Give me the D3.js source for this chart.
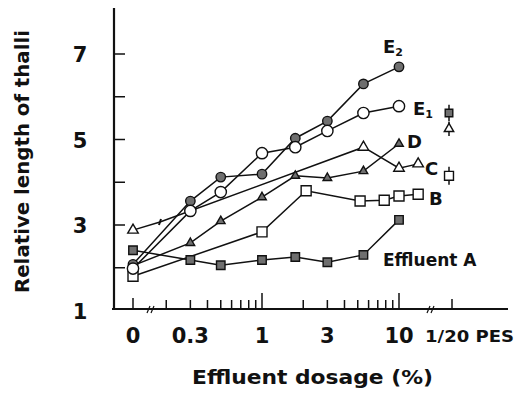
<!DOCTYPE html>
<html>
<head>
<meta charset="utf-8">
<script src="https://cdn.jsdelivr.net/npm/d3@7"></script>
<style>
  body { margin: 0; background: #fff; }
  text { font-family: "DejaVu Sans", "Liberation Sans", Arial, sans-serif; font-weight: bold; fill: #111; }
</style>
</head>
<body>
<div id="chart"></div>
<script>
// Dosages (%) shared by most effluents; 0 is drawn left of the log break.
const dosesMain = [0, 0.3, 0.5, 1, 1.75, 3, 5.5, 10];
const effluentA = [2.41, 2.18, 2.06, 2.18, 2.25, 2.13, 2.30, 3.12];
const effluentD = [2.05, 2.58, 3.09, 3.65, 4.15, 4.10, 4.26, 4.90];
const effluentE1 = [1.98, 3.33, 3.77, 4.68, 4.82, 5.20, 5.62, 5.78];
const effluentE2 = [2.08, 3.56, 4.12, 4.19, 5.03, 5.43, 6.30, 6.70];

const dosesB = [0, 1, 2.1, 5.2, 7.8, 10, 13.8];
const effluentB = [1.80, 2.84, 3.80, 3.56, 3.58, 3.68, 3.72];

const dosesC = [0, 0.18, 5.5, 10, 13.8];
const effluentC = [2.88, 3.07, 4.82, 4.33, 4.43];

// 1/20 PES controls
const pesMarkers = ["squareFilled", "triangleOpen", "squareOpen"];
const pesMeans = [5.62, 5.25, 4.15];
const pesErrors = [0.19, 0.17, 0.21];

const yTicks = [2, 3, 4, 5, 6, 7];
const yLabels = [1, 3, 5, 7];
const xMinorTicks = [0.2, 0.3, 0.4, 0.5, 0.6, 0.7, 0.8, 0.9, 2, 3, 4, 5, 6, 7, 8, 9];
const xMajorTicks = [1, 10];
const xLabels = [[0, "0"], [0.3, "0.3"], [1, "1"], [3, "3"], [10, "10"]];

const Width = 524, Height = 401;
const AxisX = 114, AxisY = 309;
const ZeroX = 133, PesX = 452;

const svg = d3.select("#chart").append("svg")
    .attr("width", Width)
    .attr("height", Height);

const y = d3.scaleLinear().domain([1, 7]).range([310.5, 54]);
const xLog = d3.scaleLog().domain([1, 10]).range([262, 399]);
const xPos = d => d === 0 ? ZeroX : xLog(d);

// Axes
svg.append("line")
    .attr("x1", AxisX).attr("x2", AxisX)
    .attr("y1", 8).attr("y2", AxisY + 1)
    .attr("stroke", "#111").attr("stroke-width", 2.2);
svg.append("line")
    .attr("x1", 112).attr("x2", 508)
    .attr("y1", AxisY).attr("y2", AxisY)
    .attr("stroke", "#111").attr("stroke-width", 2);

svg.selectAll(".ytick")
    .data(yTicks)
    .join("line")
        .attr("x1", AxisX).attr("x2", AxisX + 11)
        .attr("y1", d => y(d)).attr("y2", d => y(d))
        .attr("stroke", "#111").attr("stroke-width", 1.5);

svg.selectAll(".ylabel")
    .data(yLabels)
    .join("text")
        .attr("x", 80)
        .attr("y", d => y(d) + 8)
        .attr("text-anchor", "middle")
        .style("font-size", "21px")
        .text(d => d);

const tick = (x, h) => svg.append("line")
    .attr("x1", x).attr("x2", x)
    .attr("y1", AxisY).attr("y2", AxisY - h)
    .attr("stroke", "#111").attr("stroke-width", 1.5);

xMinorTicks.forEach(d => tick(xLog(d), 9));
xMajorTicks.forEach(d => tick(xLog(d), 16));
tick(ZeroX, 11);
tick(PesX, 10);

// axis breaks
[151, 431].forEach(bx => {
    svg.append("path")
        .attr("d", `M${bx - 4},${AxisY + 4} L${bx - 1},${AxisY - 3} M${bx},${AxisY + 4} L${bx + 3},${AxisY - 3}`)
        .attr("stroke", "#111").attr("stroke-width", 1.2).attr("fill", "none");
});

svg.selectAll(".xlabel")
    .data(xLabels)
    .join("text")
        .attr("x", d => xPos(d[0]))
        .attr("y", 343)
        .attr("text-anchor", "middle")
        .style("font-size", "21px")
        .text(d => d[1]);

svg.append("text")
    .attr("x", 425).attr("y", 342)
    .attr("textLength", 89).attr("lengthAdjust", "spacingAndGlyphs")
    .style("font-size", "15px")
    .text("1/20 PES");

svg.append("text")
    .attr("x", 192).attr("y", 384)
    .attr("textLength", 241).attr("lengthAdjust", "spacingAndGlyphs")
    .style("font-size", "19px")
    .text("Effluent dosage (%)");

svg.append("text")
    .attr("transform", "translate(29,293) rotate(-90)")
    .attr("textLength", 263).attr("lengthAdjust", "spacingAndGlyphs")
    .style("font-size", "19px")
    .text("Relative length of thalli");

// Series
const line = d3.line().x(d => xPos(d[0])).y(d => y(d[1]));
const zipped = (xs, ys) => xs.map((d, i) => [d, ys[i]]);

const markerStyle = {
    circleFilled:   { type: d3.symbolCircle, size: 70, fill: "#6f6f6f" },
    circleOpen:     { type: d3.symbolCircle, size: 100, fill: "#fff" },
    squareFilled:   { type: d3.symbolSquare, size: 72, fill: "#6f6f6f" },
    squareOpen:     { type: d3.symbolSquare, size: 100, fill: "#fff" },
    triangleFilled: { type: d3.symbolTriangle, size: 32, fill: "#6f6f6f" },
    triangleOpen:   { type: d3.symbolTriangle, size: 48, fill: "#fff" },
};

const series = [
    { doses: dosesC, values: effluentC, marker: "triangleOpen" },
    { doses: dosesB, values: effluentB, marker: "squareOpen" },
    { doses: dosesMain, values: effluentA, marker: "squareFilled" },
    { doses: dosesMain, values: effluentD, marker: "triangleFilled" },
    { doses: dosesMain, values: effluentE2, marker: "circleFilled" },
    { doses: dosesMain, values: effluentE1, marker: "circleOpen" },
];

series.forEach(s => {
    svg.append("path")
        .datum(zipped(s.doses, s.values))
        .attr("d", line)
        .attr("fill", "none")
        .attr("stroke", "#111")
        .attr("stroke-width", 1.5);
});

series.forEach(s => {
    const m = markerStyle[s.marker];
    const pts = zipped(s.doses, s.values);
    svg.selectAll(null)
        .data(pts.filter(d => d[0] !== 0.18))
        .join("path")
            .attr("transform", d => `translate(${xPos(d[0])},${y(d[1])})`)
            .attr("d", d3.symbol().type(m.type).size(m.size))
            .attr("fill", m.fill)
            .attr("stroke", "#111")
            .attr("stroke-width", 1.4);
    // tiny dash markers at 0.18 %
    svg.selectAll(null)
        .data(pts.filter(d => d[0] === 0.18))
        .join("line")
            .attr("x1", d => xPos(d[0]) - 1).attr("x2", d => xPos(d[0]) + 1)
            .attr("y1", d => y(d[1]) + 3).attr("y2", d => y(d[1]) - 3)
            .attr("stroke", "#111").attr("stroke-width", 2);
});

// PES controls with error bars
pesMeans.forEach((v, i) => {
    svg.append("line")
        .attr("x1", PesX - 3).attr("x2", PesX - 3)
        .attr("y1", y(v - pesErrors[i])).attr("y2", y(v + pesErrors[i]))
        .attr("stroke", "#111").attr("stroke-width", 1.5);
    const m = markerStyle[pesMarkers[i]];
    svg.append("path")
        .attr("transform", `translate(${PesX - 3},${y(v)})`)
        .attr("d", d3.symbol().type(m.type).size(m.size * 0.8)())
        .attr("fill", m.fill)
        .attr("stroke", "#111")
        .attr("stroke-width", 1.4);
});

// Series labels
const label = (x, yy, txt, size) => svg.append("text")
    .attr("x", x).attr("y", yy)
    .style("font-size", size + "px")
    .text(txt);

const e2 = label(383, 53, "E", 18);
e2.append("tspan").attr("dy", 3).style("font-size", "11px").text("2");
const e1 = label(413, 115, "E", 18);
e1.append("tspan").attr("dy", 3).style("font-size", "11px").text("1");
label(407, 148, "D", 18);
label(425, 175, "C", 18);
label(429, 205, "B", 18);
label(383, 266, "Effluent A", 17);
</script>
</body>
</html>
